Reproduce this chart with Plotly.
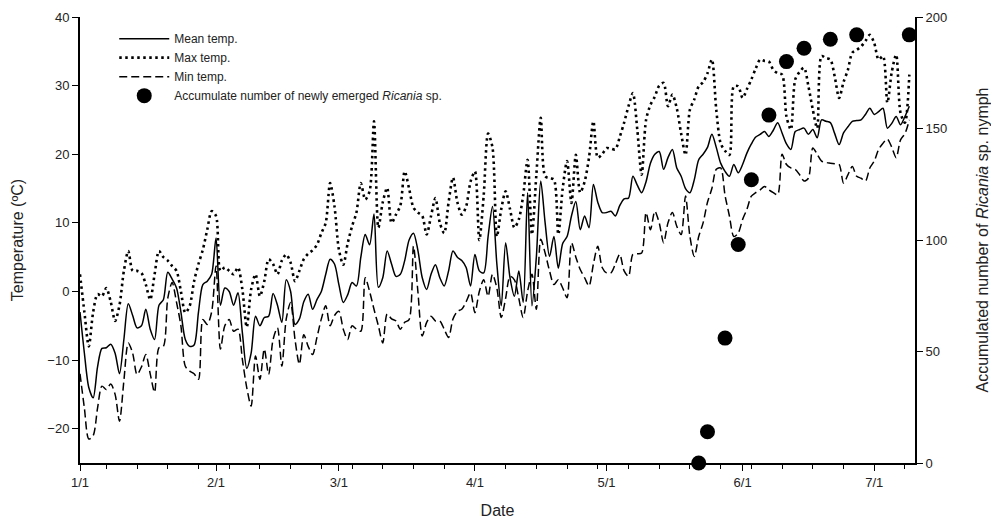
import pandas as pd
import plotly.graph_objects as go

start_date = "2021-01-01"

mean_temp = [
    -3, -9, -14, -15.5, -11, -8.3, -8.2, -7.7, -9, -12,
    -7, -1.8, -3.5, -5.3, -5, -2.6, -5.5, -7, -2, -1.2,
    2.8, 1.8, 0.5, -3, -7, -8, -7.8, -3, 1, 1.5,
    2.5, 7.8, -2, 0.5, 0, -2, -0.2, -6, -11.2, -9,
    -3.6, -5, -3.8, -3.6, -0.3, -2, -4.5, 1.7, 0, -4.8,
    -4, -1.5, -0.4, -2.6, -1.2, 0, 2.5, 4.7, 4, 1,
    -1.6, -0.5, 1.3, 0.8, 5, 8.3, 6.8, 11.3, 0.6, 2,
    5.9, 4, 2.2, 2.5, 4.5, 7.5, 8.5, 6, 2, 0.3,
    2.5, 3.9, 2, 0.8, 3, 5.9, 5, 4.5, 3.5, 0.8,
    5.4, 3, 2.7, 8, 12.4, 4, -2.1, 7.1, 2, -0.7,
    3, -1.6, 14.4, -2.1, 5, 16.1, 10, 5.1, 8, 3.4,
    7, 8, 11, 13.1, 9, 11, 9.3, 15.6, 13, 11.5,
    11.5, 11.7, 11, 12.5, 13.5, 13.6, 16.8, 15.5, 14.4, 16,
    18.7, 20, 20.4, 17.8, 19.5, 20.7, 18, 16.8, 15, 14.4,
    16.3, 19.2, 20, 21, 22.9, 21, 18.7, 17.5, 16.8, 18.5,
    17.3, 18.5, 20.2, 21.5, 22.5, 22.9, 23.3, 22.6, 23.5, 24.6,
    23.1, 21.5, 20.7, 23.3, 23.6, 23.8, 22.9, 23.6, 22.4, 25,
    24.8, 24.6, 23, 21.4, 23.1, 24, 24.8, 24.9, 25, 25.8,
    26.7, 25.8, 26.2, 26.7, 23.8, 24.5, 25.5, 24.3, 25.5, 27,
]

max_temp = [
    2.5, -3, -8, -3, -0.4, -0.7, 0.5, -1.5, -4.3, -2,
    3, 5.9, 3, 3, 2.7, 1, -1.2, 2.5, 5.9, 5,
    4.5, 3.7, 3, 0, -3.1, -2.1, 1.5, 4, 6.1, 9,
    11.7, 11, 3, 3.5, 3, 2.5, 3.5, 0.3, -5.2, 0.3,
    2.5, -0.7, 1.5, 4.7, 4, 2.5, 4.5, 5.4, 4.2, 1.5,
    3, 4.7, 5.5, 6, 6.8, 8.5, 10, 15.8, 12.4, 6.1,
    3.9, 7, 9.5, 11.5, 15.8, 13.4, 14.6, 24.8, 9.3, 13,
    15.1, 10, 11.2, 12.5, 17.5, 15, 12.2, 11.5, 11, 8.3,
    11, 13.6, 10, 8.5, 13, 16.6, 13, 11.2, 12.4, 16,
    17.5, 7.5, 14, 23, 21, 8, 12, 14.6, 12, 9.3,
    10.5, 14, 19.2, 8.3, 17, 25.3, 16.8, 16.5, 16.3, 8.3,
    15, 19, 12.9, 19.9, 14.4, 16, 19.5, 24.8, 19.5, 20,
    20.9, 20.8, 20.7, 22.5, 24.6, 27, 28.9, 23.6, 17, 25,
    27.2, 28.4, 30, 30.4, 27, 28.7, 26.7, 23, 19.9, 26.5,
    28, 29.9, 30.5, 31.8, 33.8, 26.5, 21.6, 20.5, 19.9, 29.9,
    29.9, 28.2, 29.5, 30.9, 32.5, 33.8, 33.6, 33.5, 32.3, 31.8,
    31.6, 25.5, 23.6, 30.9, 32, 32.6, 29.9, 26.5, 23.8, 34.3,
    34, 33.8, 31.3, 28.2, 30.5, 32.3, 34.8, 35.2, 35.7, 36.5,
    37.4, 36.2, 33.8, 34.3, 27.5, 32, 34.5, 26, 24.6, 31.6,
]

min_temp = [
    -12, -17, -21.5, -21, -17, -13.8, -14.3, -13.5, -15, -18.9,
    -13, -7.5, -9, -12.1, -11, -9.2, -12, -14.7, -8.2, -8,
    -1, 1.3, -1.6, -5, -10.9, -11.6, -12, -12.8, -4.1, -4.8,
    -3, 3.7, -8.4, -5, -4.1, -5.8, -5.5, -9.9, -14, -16.7,
    -9.4, -12.8, -8.4, -12.1, -7, -5.3, -10.9, -4, -1.6, -7,
    -10.6, -6.3, -8, -9.2, -6.7, -4, -2.1, -5, -3.5, -2.9,
    -5.5, -7, -5, -5.5, -5.8, 2, 0, -2.6, -5, -7.5,
    -3.3, -4, -4.3, -5.5, -4.5, -4.1, 6.6, 0, -6.5, -4.5,
    -3.6, -4.3, -4.3, -5.5, -6.7, -4, -2.9, -2.6, -1.5, -0.2,
    -3.1, 0, 1.7, -0.7, 2.5, 0.5, -3.8, -1, 2.2, 1.7,
    -1, -3.8, 0, 2.5, -2.6, 7.6, 5.6, 3, 1, 1.7,
    0.5, -0.9, 7.1, 5, 3.2, 2, 0.8, 4, 6.6, 3.5,
    2.7, 2.7, 4, 5.4, 3, 2.2, 5.4, 5.5, 5.6, 11.5,
    9, 11.7, 10, 7.1, 10, 11.5, 9.5, 8.3, 13.9, 8,
    5.1, 8, 10, 13, 15, 17.8, 18, 14, 11, 8,
    8.5, 10.5, 12, 13.9, 14.4, 14.8, 15.3, 14.8, 14.4, 14.1,
    20, 18.5, 18, 17.8, 17, 16.1, 16.5, 20.9, 20, 19,
    18.8, 18.7, 18.6, 18.5, 15.8, 17, 18.2, 16.8, 16.5, 16.1,
    18, 19, 20.7, 21.6, 22.2, 21, 19.5, 22.1, 23, 25,
]

nymph_dates = ["2021-05-22", "2021-05-24", "2021-05-28", "2021-05-31", "2021-06-03",
               "2021-06-07", "2021-06-11", "2021-06-15", "2021-06-21", "2021-06-27",
               "2021-07-09"]
nymph_counts = [0, 14, 56, 98, 127, 156, 180, 186, 190, 192, 192]

temp_ticks = [-20, -10, 0, 10, 20, 30, 40]
count_ticks = [0, 50, 100, 150, 200]

dates = pd.date_range(start_date, periods=len(mean_temp), freq="D")

FONT = "Liberation Sans, Arial, sans-serif"
TXT = "#222222"

fig = go.Figure()
fig.add_trace(go.Scatter(x=dates, y=mean_temp, mode="lines", name="Mean temp.",
                         line=dict(color="black", width=1.5, shape="spline", smoothing=0.8)))
fig.add_trace(go.Scatter(x=dates, y=max_temp, mode="lines", name="Max temp.",
                         line=dict(color="black", width=2.6, dash="2.5px,3.5px",
                                   shape="spline", smoothing=0.8)))
fig.add_trace(go.Scatter(x=dates, y=min_temp, mode="lines", name="Min temp.",
                         line=dict(color="black", width=1.5, dash="8px,4px",
                                   shape="spline", smoothing=0.8)))
fig.add_trace(go.Scatter(x=pd.to_datetime(nymph_dates), y=nymph_counts, mode="markers",
                         name="Accumulate number of newly emerged <i>Ricania</i> sp.",
                         yaxis="y2", cliponaxis=False,
                         marker=dict(color="black", size=15, symbol="circle")))

fig.update_layout(
    width=991, height=526,
    margin=dict(l=80, r=76, t=17, b=63),
    paper_bgcolor="white", plot_bgcolor="white",
    font=dict(family=FONT, size=13, color=TXT),
    showlegend=True,
    legend=dict(x=0.041, y=0.984, xanchor="left", yanchor="top",
                bgcolor="rgba(0,0,0,0)", font=dict(size=12, color=TXT),
                itemwidth=50, tracegroupgap=0),
    xaxis=dict(
        type="date", automargin=False,
        range=["2021-01-01", "2021-07-10 07:00"],
        tick0="2021-01-01", dtick="M1", tickformat="%-m/%-d",
        ticks="outside", ticklen=6, tickwidth=1.2, tickcolor="black",
        showline=True, linecolor="black", linewidth=2,
        showgrid=False, zeroline=False, mirror=False,
        tickfont=dict(size=13, color=TXT),
        minor=dict(ticks="outside", ticklen=4, tickwidth=1, tickcolor="black",
                   dtick=7 * 86400000, tick0="2021-01-07", showgrid=False),
        title=dict(text="Date", font=dict(size=16, color=TXT), standoff=16),
    ),
    yaxis=dict(
        range=[-25, 40], tickvals=temp_ticks, automargin=False,
        ticks="outside", ticklen=6, tickwidth=1.2, tickcolor="black",
        showline=True, linecolor="black", linewidth=2,
        showgrid=False, zeroline=False,
        tickfont=dict(size=13, color=TXT),
        title=dict(text="Temperature (ºC)", font=dict(size=16, color=TXT), standoff=20),
    ),
    yaxis2=dict(
        range=[0, 200], tickvals=count_ticks, overlaying="y", side="right",
        automargin=False,
        ticks="outside", ticklen=6, tickwidth=1.2, tickcolor="black",
        showline=True, linecolor="black", linewidth=2,
        showgrid=False, zeroline=False,
        tickfont=dict(size=13, color=TXT),
        title=dict(text="Accumulated number of <i>Ricania</i> sp. nymph",
                   font=dict(size=16, color=TXT), standoff=32),
    ),
)

fig.write_html("out.html", config={"displayModeBar": False},
               post_script="document.body.style.margin='0';document.body.style.overflow='hidden';")
